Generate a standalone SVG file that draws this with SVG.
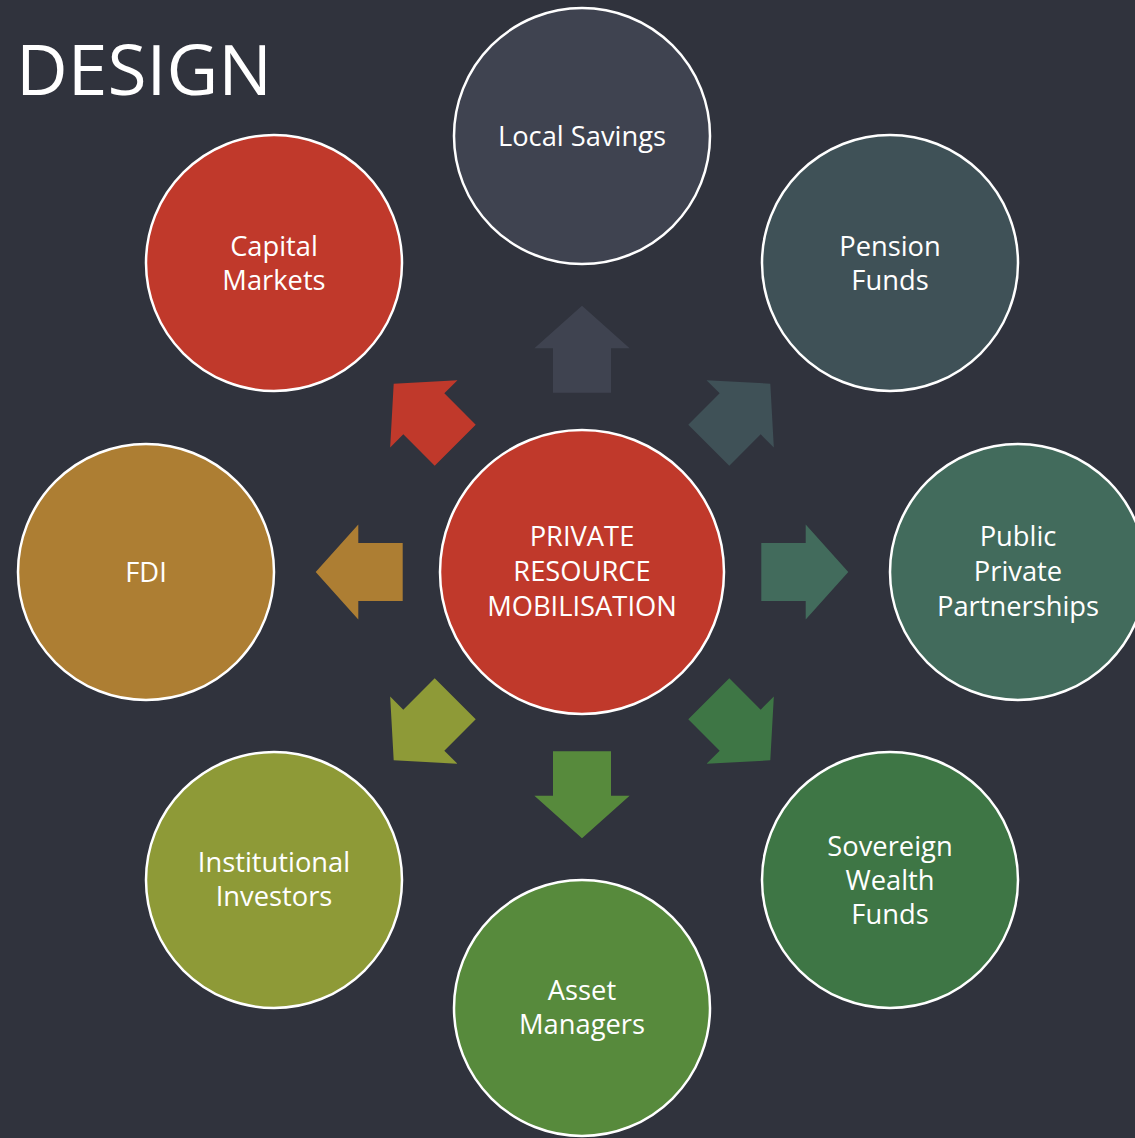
<svg xmlns="http://www.w3.org/2000/svg" width="1135" height="1138" viewBox="0 0 1135 1138">
<style>
.bg{fill:#30333d}
.node{stroke:#ffffff;stroke-width:2.5}
.lbl{font-family:"Open Sans","Liberation Sans",Arial,sans-serif;font-size:27.3px;fill:#ffffff;text-anchor:middle}
.title{font-family:"Open Sans","Liberation Sans",sans-serif;font-size:70px;fill:#ffffff}
</style>
<defs>
<path id="arr" d="M -29 -179.3 L 29 -179.3 L 29 -223.7 L 47.6 -223.7 L 0 -266.3 L -47.6 -223.7 L -29 -223.7 Z"/>
</defs>
<rect class="bg" x="0" y="0" width="1135" height="1138"/>
<text class="title" x="16" y="95" textLength="256" lengthAdjust="spacingAndGlyphs">DESIGN</text>
<g id="connectors">
<use href="#arr" transform="translate(582 572) rotate(0)" fill="#3f4350"/>
<use href="#arr" transform="translate(582 572) rotate(45)" fill="#3f5157"/>
<use href="#arr" transform="translate(582 572) rotate(90)" fill="#426b5c"/>
<use href="#arr" transform="translate(582 572) rotate(135)" fill="#3e7645"/>
<use href="#arr" transform="translate(582 572) rotate(180)" fill="#578a3c"/>
<use href="#arr" transform="translate(582 572) rotate(225)" fill="#8e9a37"/>
<use href="#arr" transform="translate(582 572) rotate(270)" fill="#ad7e33"/>
<use href="#arr" transform="translate(582 572) rotate(315)" fill="#c0392b"/>
</g>
<g id="center">
<circle class="node" cx="582" cy="572" r="142" fill="#c0392b"/>
<text class="lbl" x="582" y="546">PRIVATE</text>
<text class="lbl" x="582" y="581">RESOURCE</text>
<text class="lbl" x="582" y="616">MOBILISATION</text>
</g>
<g id="local-savings">
<circle class="node" cx="582" cy="136" r="128" fill="#3f4350"/>
<text class="lbl" x="582" y="146">Local Savings</text>
</g>
<g id="pension-funds">
<circle class="node" cx="890" cy="263" r="128" fill="#3f5157"/>
<text class="lbl" x="890" y="256">Pension</text>
<text class="lbl" x="890" y="290">Funds</text>
</g>
<g id="ppp">
<circle class="node" cx="1018" cy="572" r="128" fill="#426b5c"/>
<text class="lbl" x="1018" y="546">Public</text>
<text class="lbl" x="1018" y="581">Private</text>
<text class="lbl" x="1018" y="616">Partnerships</text>
</g>
<g id="sovereign">
<circle class="node" cx="890" cy="880" r="128" fill="#3e7645"/>
<text class="lbl" x="890" y="856">Sovereign</text>
<text class="lbl" x="890" y="890">Wealth</text>
<text class="lbl" x="890" y="924">Funds</text>
</g>
<g id="asset-managers">
<circle class="node" cx="582" cy="1008" r="128" fill="#578a3c"/>
<text class="lbl" x="582" y="1000">Asset</text>
<text class="lbl" x="582" y="1034">Managers</text>
</g>
<g id="institutional">
<circle class="node" cx="274" cy="880" r="128" fill="#8e9a37"/>
<text class="lbl" x="274" y="872">Institutional</text>
<text class="lbl" x="274" y="906">Investors</text>
</g>
<g id="fdi">
<circle class="node" cx="146" cy="572" r="128" fill="#ad7e33"/>
<text class="lbl" x="146" y="582">FDI</text>
</g>
<g id="capital-markets">
<circle class="node" cx="274" cy="263" r="128" fill="#c0392b"/>
<text class="lbl" x="274" y="256">Capital</text>
<text class="lbl" x="274" y="290">Markets</text>
</g>
</svg>
